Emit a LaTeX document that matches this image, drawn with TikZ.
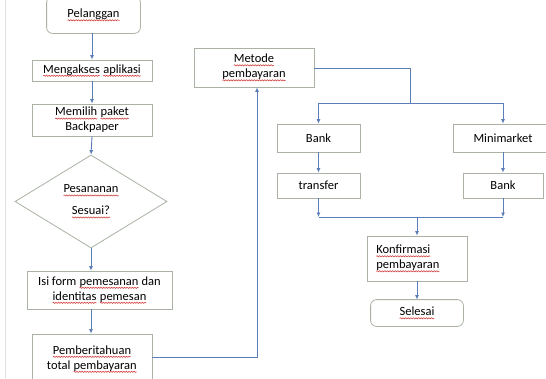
\documentclass[tikz,border=0pt]{standalone}
\usepackage{fontspec}
\setmainfont{Carlito}
\usetikzlibrary{arrows.meta,shapes.geometric,decorations.pathmorphing}
\definecolor{boxgrey}{HTML}{A9B2A4}
\definecolor{linkblue}{HTML}{5B7DB8}
\definecolor{squig}{HTML}{D23A3A}
\newcommand\sq[1]{\tikz[baseline=(sqw.base)]{\node[inner sep=0pt, outer sep=0pt, draw=none, fill=none, minimum size=0pt, shape=rectangle] (sqw) {#1};
  \path[draw=squig, line width=0.55pt, decorate, decoration={snake, amplitude=0.6pt, segment length=2.6pt}] ([yshift=-2.8pt]sqw.base west) -- ([yshift=-2.8pt]sqw.base east);}}
\tikzset{
  box/.style={draw=boxgrey, line width=0.8pt, fill=white, align=center, inner sep=2pt,
    font=\fontsize{12.5}{15}\selectfont},
  rbox/.style={box, draw=white},
  rframe/.style={draw=boxgrey, line width=0.8pt, rounded corners=6pt},
  link/.style={draw=linkblue, line width=0.9pt},
  arr/.style={link, -{Latex[length=4.5pt,width=4pt]}},
}
\begin{document}
\begin{tikzpicture}[x=1pt,y=-1pt]
\useasboundingbox (0,0) rectangle (546,378);
\clip (0,0) rectangle (546,378);
\fill[white] (0,0) rectangle (546,378);
\draw[gray!25, line width=0.8pt] (5,0) -- (5,378);

\node[rbox, minimum width=93pt, minimum height=36pt] (pel) at (93.5,15) {\sq{Pelanggan}};
\draw[rframe] (pel.south west) rectangle (pel.north east);
\node[box, minimum width=120pt, minimum height=21pt] (meng) at (92,70.5) {\sq{Mengakses} \sq{aplikasi}};
\node[box, minimum width=120pt, minimum height=32pt] (mem) at (92,120) {\sq{Memilih} \sq{paket}\\Backpaper};
\node[box, diamond, inner sep=0pt, minimum width=152pt, minimum height=93pt,
      font=\fontsize{12.5}{22}\selectfont] (dia) at (91,201.5) {\sq{Pesananan}\\\sq{Sesuai?}};
\node[box, minimum width=145pt, minimum height=38pt] (isi) at (99.5,290) {Isi form \sq{pemesanan} dan\\\sq{identitas} \sq{pemesan}};
\node[box, minimum width=120pt, minimum height=50pt] (pem) at (92,359) {\sq{Pemberitahuan}\\total \sq{pembayaran}};

\node[box, minimum width=120pt, minimum height=39pt] (met) at (254,67.5) {\sq{Metode}\\\sq{pembayaran}};
\node[box, minimum width=83pt, minimum height=28pt] (bank1) at (318.5,138) {Bank};
\node[box, minimum width=100pt, minimum height=28pt] (mini) at (503,138) {Minimarket};
\node[box, minimum width=83pt, minimum height=25pt] (trans) at (318.5,185.5) {transfer};
\node[box, minimum width=80pt, minimum height=25pt] (bank2) at (503,185.5) {Bank};
\node[box, text width=82pt, inner xsep=9pt, align=left, minimum height=45pt] (konf) at (417,258.5) {\sq{Konfirmasi}\\\sq{pembayaran}};
\node[rbox, minimum width=92pt, minimum height=26pt] (sel) at (417,313) {\sq{Selesai}};
\draw[rframe] (sel.south west) rectangle (sel.north east);

\coordinate (up) at (257,357);
\coordinate (sp) at (410,68);
\coordinate (spl) at (318.5,103);
\coordinate (spr) at (503,103);
\coordinate (mg) at (417,217);
\coordinate (mgl) at (318.5,217);
\coordinate (mgr) at (503,217);

\draw[arr] (pel.south -| meng.north) -- (meng.north);
\draw[arr] (meng.south) -- (mem.north);
\draw[arr] (mem.south) -- (dia.north);
\draw[arr] (dia.south) -- (dia.south |- isi.north);
\draw[arr] (isi.south -| dia.south) -- (dia.south |- pem.north);
\draw[arr] (pem.east |- up) -- (up) -- (up |- met.south);
\draw[link] (met.east |- sp) -- (sp) -- (sp |- spl);
\draw[link] (spl) -- (spr);
\draw[arr] (spl) -- (bank1.north);
\draw[arr] (spr) -- (mini.north);
\draw[arr] (bank1.south) -- (trans.north);
\draw[arr] (mini.south) -- (bank2.north);
\draw[arr] (trans.south) -- (mgl);
\draw[arr] (bank2.south) -- (mgr);
\draw[link] (mgl) -- (mgr);
\draw[arr] (mg) -- (konf.north);
\draw[arr] (konf.south) -- (sel.north);
\end{tikzpicture}
\end{document}
